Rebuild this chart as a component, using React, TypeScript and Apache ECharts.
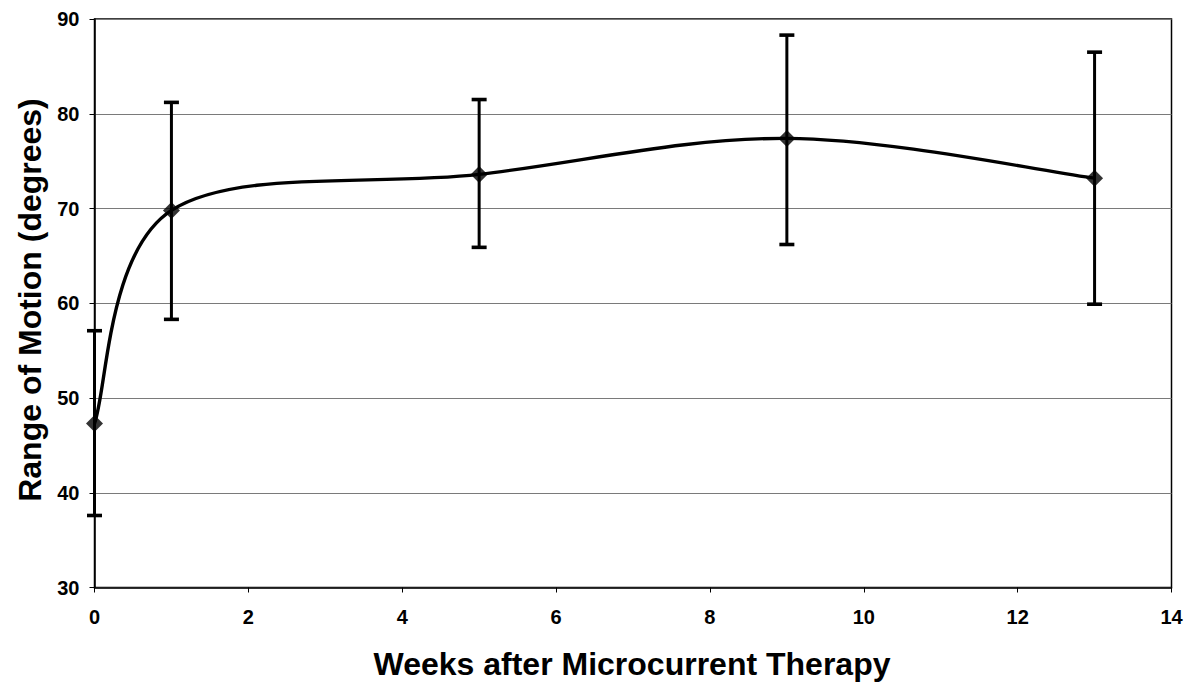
import React, { useEffect, useRef } from "react";
import * as echarts from "echarts";

const weeks = [0, 1, 5, 9, 13];
const meanROM = [47.3, 69.8, 73.6, 77.4, 73.2];
const lowerROM = [37.6, 58.3, 65.9, 66.2, 59.9];
const upperROM = [57.1, 81.2, 81.5, 88.3, 86.5];

const xTitle = "Weeks after Microcurrent Therapy";
const yTitle = "Range of Motion (degrees)";

const FONT = "'Liberation Sans', Arial, Helvetica, sans-serif";

export default function App() {
  const ref = useRef<HTMLDivElement>(null);

  useEffect(() => {
    if (!ref.current) return;
    const chart = echarts.init(ref.current, undefined, { renderer: "svg" });

    const errorData = weeks.map((w, i) => [w, lowerROM[i], upperROM[i]]);
    const pointData = weeks.map((w, i) => [w, meanROM[i]]);

    chart.setOption({
      animation: false,
      backgroundColor: "#ffffff",
      textStyle: { fontFamily: FONT },
      grid: {
        left: 94.5,
        right: 21.5,
        top: 19,
        bottom: 101.5,
        show: true,
        borderColor: "#000",
        borderWidth: 1.5,
        containLabel: false,
      },
      xAxis: {
        type: "value",
        min: 0,
        max: 14,
        interval: 2,
        axisLine: { show: true, onZero: false, lineStyle: { color: "#000", width: 1.5 } },
        axisTick: { show: true, length: 5, inside: false, lineStyle: { color: "#000", width: 1 } },
        splitLine: { show: false },
        axisLabel: {
          color: "#000",
          fontSize: 20,
          fontWeight: "bold",
          fontFamily: FONT,
          margin: 19,
        },
      },
      yAxis: {
        type: "value",
        min: 30,
        max: 90,
        interval: 10,
        axisLine: { show: true, lineStyle: { color: "#000", width: 1.5 } },
        axisTick: { show: true, length: 5, inside: false, lineStyle: { color: "#000", width: 1 } },
        splitLine: { show: true, lineStyle: { color: "#7a7a7a", width: 1 } },
        axisLabel: {
          color: "#000",
          fontSize: 20,
          fontWeight: "bold",
          fontFamily: FONT,
          margin: 15,
        },
      },
      graphic: [
        {
          type: "text",
          x: 30,
          y: 300,
          rotation: Math.PI / 2,
          style: {
            text: yTitle,
            fill: "#000",
            font: `bold 32px ${FONT}`,
            align: "center",
            verticalAlign: "middle",
          },
        },
        {
          type: "text",
          x: 632,
          y: 664,
          style: {
            text: xTitle,
            fill: "#000",
            font: `bold 32px ${FONT}`,
            align: "center",
            verticalAlign: "middle",
          },
        },
      ],
      series: [
        {
          type: "custom",
          name: "errors",
          data: errorData,
          z: 3,
          renderItem: (params: any, api: any) => {
            const x = api.value(0);
            const lo = api.coord([x, api.value(1)]);
            const hi = api.coord([x, api.value(2)]);
            const half = 7.5;
            const style = { stroke: "#000", lineWidth: 3 };
            const capStyle = { stroke: "#000", lineWidth: 3.6 };
            return {
              type: "group",
              children: [
                { type: "line", shape: { x1: lo[0], y1: lo[1], x2: hi[0], y2: hi[1] }, style },
                { type: "line", shape: { x1: lo[0] - half, y1: lo[1], x2: lo[0] + half, y2: lo[1] }, style: capStyle },
                { type: "line", shape: { x1: hi[0] - half, y1: hi[1], x2: hi[0] + half, y2: hi[1] }, style: capStyle },
              ],
            };
          },
        },
        {
          type: "custom",
          name: "curve",
          data: [[0, 0]],
          z: 4,
          clip: false,
          renderItem: (params: any, api: any) => {
            const P = weeks.map((w, i) => api.coord([w, meanROM[i]]));
            let d = `M${P[0][0]},${P[0][1]}`;
            for (let i = 0; i < P.length - 1; i++) {
              const p0 = P[i - 1] || P[i];
              const p1 = P[i];
              const p2 = P[i + 1];
              const p3 = P[i + 2] || P[i + 1];
              const c1 = [p1[0] + (p2[0] - p0[0]) / 6, p1[1] + (p2[1] - p0[1]) / 6];
              const c2 = [p2[0] - (p3[0] - p1[0]) / 6, p2[1] - (p3[1] - p1[1]) / 6];
              d += ` C${c1[0]},${c1[1]} ${c2[0]},${c2[1]} ${p2[0]},${p2[1]}`;
            }
            return {
              type: "path",
              shape: { pathData: d },
              style: { stroke: "#000", lineWidth: 3.4, fill: "none" },
            };
          },
        },
        {
          type: "scatter",
          name: "mean",
          data: pointData,
          symbol: "diamond",
          symbolSize: 17,
          z: 5,
          itemStyle: { color: "#000" },
        },
      ],
    });

    return () => chart.dispose();
  }, []);

  return (
    <div
      ref={ref}
      style={{ position: "fixed", left: 0, top: 0, width: 1193, height: 689, background: "#fff" }}
    />
  );
}
